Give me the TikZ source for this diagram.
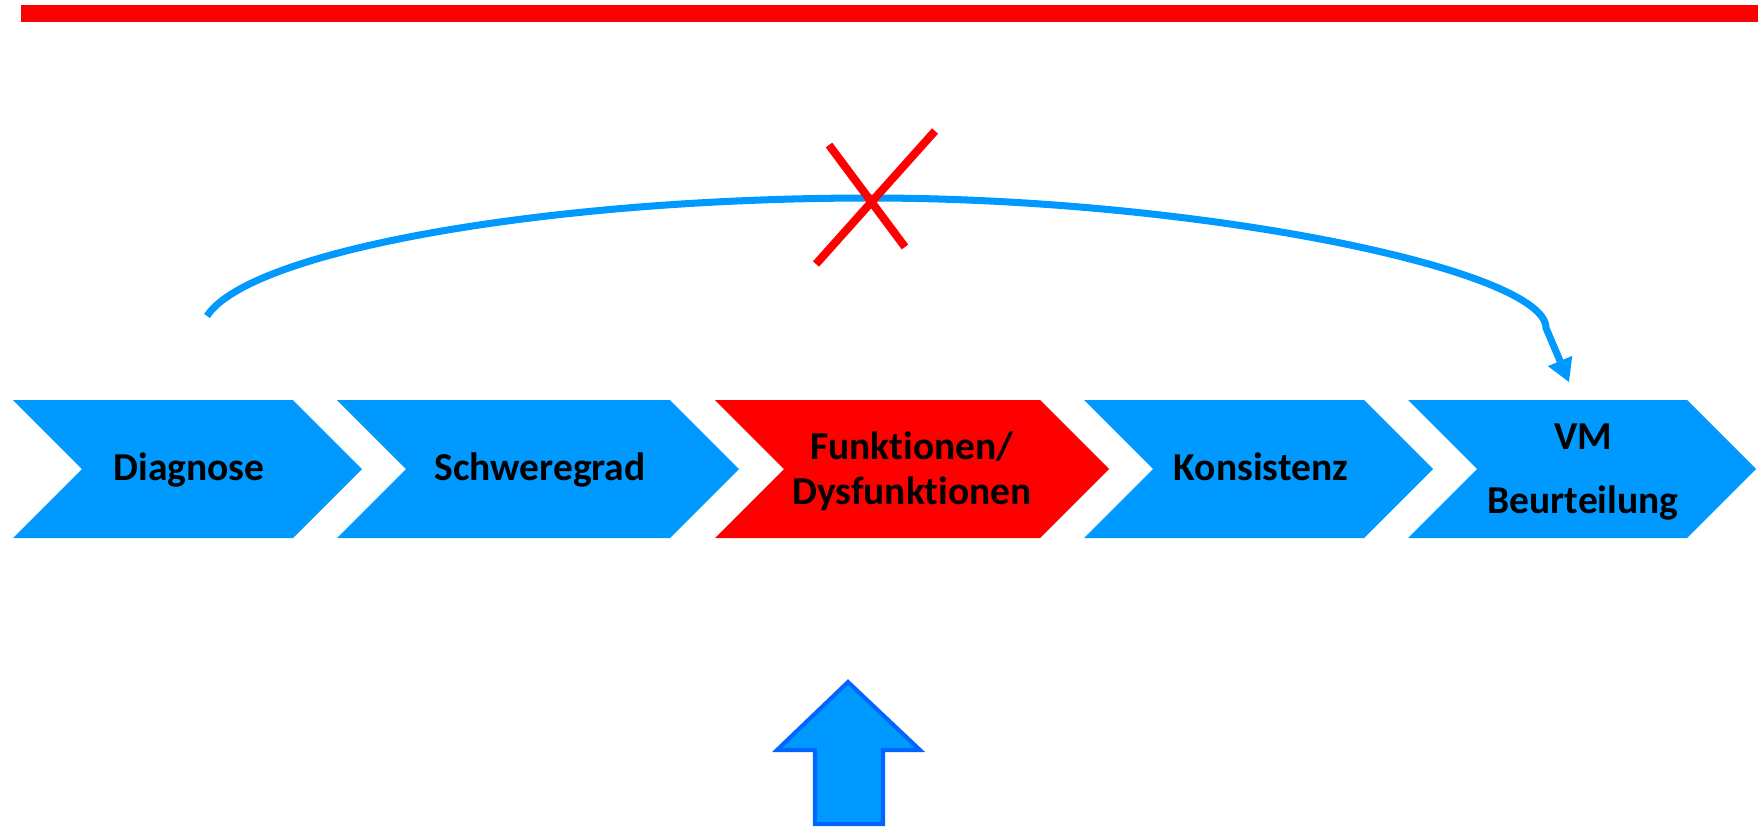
\documentclass[tikz,border=0pt]{standalone}
\usepackage{fontspec}
\setmainfont{Carlito}[Ligatures=CommonOff]
\usetikzlibrary{arrows.meta}
\definecolor{stepblue}{RGB}{0,153,255}
\definecolor{stepred}{RGB}{255,0,0}
\definecolor{arrowedge}{RGB}{0,102,255}

\begin{document}
\begin{tikzpicture}[x=0.02cm, y=0.02cm]
\tikzstyle{every node}+=[inner sep=0pt]
\tikzstyle{steptext}=[font=\fontsize{22.5}{25.6}\selectfont\bfseries, align=center, text=black]
\useasboundingbox (0,0) rectangle (1758,-836);
\fill [stepred] (21,-5) rectangle (1758,-22);
\fill [stepblue] (13,-400) -- (293,-400) -- (362,-469) -- (293,-538) -- (13,-538) -- (82,-469) -- cycle;
\fill [stepblue] (337,-400) -- (670,-400) -- (739,-469) -- (670,-538) -- (337,-538) -- (406,-469) -- cycle;
\fill [stepred] (715,-400) -- (1040,-400) -- (1109,-469) -- (1040,-538) -- (715,-538) -- (784,-469) -- cycle;
\fill [stepblue] (1084,-400) -- (1364,-400) -- (1433,-469) -- (1364,-538) -- (1084,-538) -- (1153,-469) -- cycle;
\fill [stepblue] (1408,-400) -- (1687,-400) -- (1756,-469) -- (1687,-538) -- (1408,-538) -- (1477,-469) -- cycle;
\node [steptext, anchor=base] (diag) at (189,-480) {Diagnose};
\node [steptext, anchor=base] (schwere) at (540,-480) {Schweregrad};
\node [steptext] (funk) at (912,-471) {Funktionen/\\Dysfunktionen};
\node [steptext, anchor=base] (kons) at (1261,-480) {Konsistenz};
\node [steptext] (vm) at (1583,-472) {VM\\[10.5pt]Beurteilung};
\coordinate (from) at (207,-316);
\coordinate (to) at (1569,-382);
\draw [stepblue, line width=4pt, -{Triangle[length=13pt,width=15pt,fill=stepblue,line width=0pt]}] (from) .. controls (250,-250) and (550,-198) .. (870,-198) .. controls (1200,-198) and (1546,-270) .. (1546,-328) -- (to);
\draw [stepred, line width=4.6pt] (829,-145) -- (905,-247);
\draw [stepred, line width=4.6pt] (935,-131) -- (816,-264);
\filldraw [fill=stepblue, draw=arrowedge, line width=2.3pt] (848,-682) -- (920,-750) -- (883,-750) -- (883,-824) -- (815,-824) -- (815,-750) -- (777,-750) -- cycle;
\end{tikzpicture}
\end{document}
